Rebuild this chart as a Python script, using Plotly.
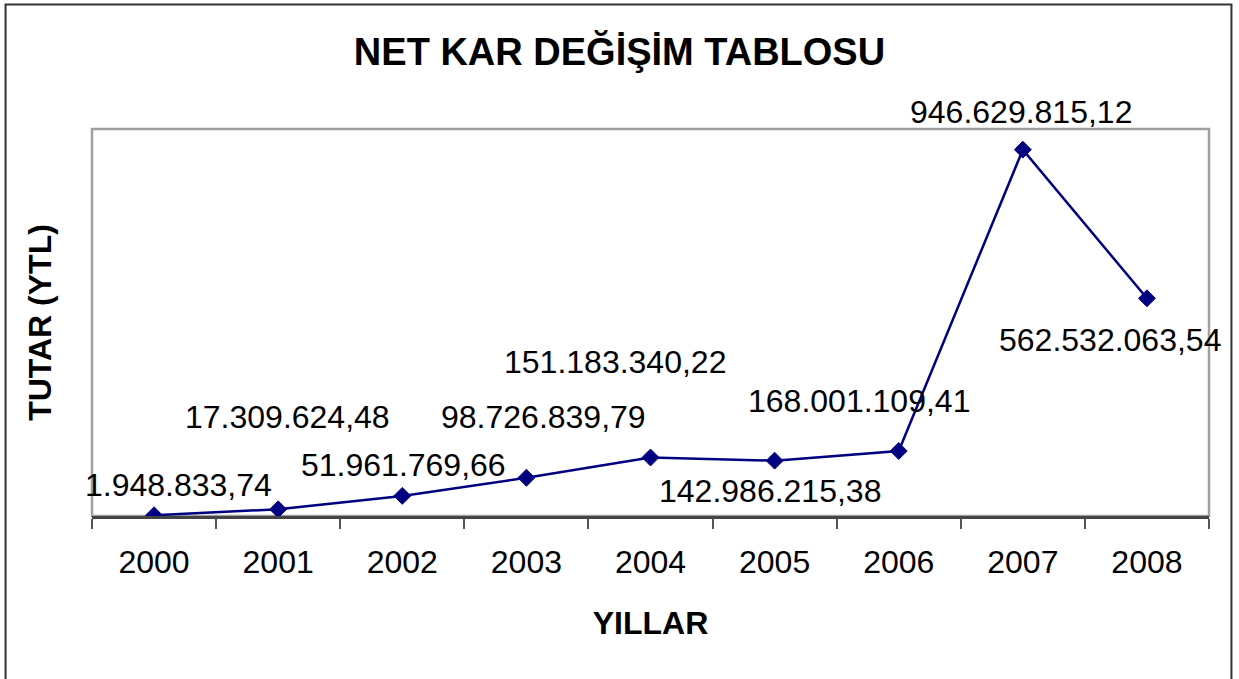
import plotly.graph_objects as go

years = ["2000", "2001", "2002", "2003", "2004", "2005", "2006", "2007", "2008"]
net_kar = [1948833.74, 17309624.48, 51961769.66, 98726839.79, 151183340.22,
           142986215.38, 168001109.41, 946629815.12, 562532063.54]
value_labels = ["1.948.833,74", "17.309.624,48", "51.961.769,66", "98.726.839,79",
                "151.183.340,22", "142.986.215,38", "168.001.109,41",
                "946.629.815,12", "562.532.063,54"]
# label offsets (pixels) as placed in the original chart
label_dx = [24, 9, 1, 17, -36, -5, -40, -2, -37]
label_dy = [30, 92, 31, 61, 95, -30, 50, 38, -42]

FONT = "Liberation Sans, Arial, sans-serif"
NAVY = "#000080"

fig = go.Figure()
fig.add_trace(go.Scatter(
    x=years, y=net_kar, mode="lines+markers",
    line=dict(color=NAVY, width=2.5),
    marker=dict(symbol="diamond", size=13, color=NAVY, line=dict(color=NAVY, width=1)),
    hoverinfo="skip", showlegend=False,
))

for i, (v, t, dx, dy) in enumerate(zip(net_kar, value_labels, label_dx, label_dy)):
    fig.add_annotation(x=i, y=v, text=t, showarrow=False, xshift=dx, yshift=dy,
                       xanchor="center", yanchor="middle",
                       font=dict(family=FONT, size=32, color="black"))

# plot-area border
fig.add_shape(type="rect", xref="paper", yref="paper", x0=0, x1=1, y0=0, y1=1,
              line=dict(color="#a0a0a0", width=2.5), layer="below")
# outer chart border
fig.add_shape(type="rect", xref="paper", yref="paper",
              x0=-0.0774, x1=1.0201, y0=-0.5, y1=1.322,
              line=dict(color="#333333", width=2))

fig.update_layout(
    width=1239, height=679,
    margin=dict(l=92, r=30, t=129, b=163),
    paper_bgcolor="white", plot_bgcolor="white",
    title=dict(text="<b>NET KAR DEĞİŞİM TABLOSU</b>", x=0.5, xanchor="center",
               y=1 - 52 / 679, yanchor="middle", yref="container",
               font=dict(family=FONT, size=38, color="black")),
    font=dict(family=FONT, color="black"),
)
fig.update_xaxes(
    type="category", range=[-0.5, len(years) - 0.5],
    tickson="boundaries", ticks="outside", ticklen=10,
    tickwidth=2, tickcolor="#555555", tickangle=0,
    showline=True, linecolor="#444444", linewidth=2.5,
    showgrid=False, zeroline=False,
    tickfont=dict(family=FONT, size=32, color="black"),
    ticklabelstandoff=16,
    title=dict(text="<b>YILLAR</b>", font=dict(family=FONT, size=32, color="black"),
               standoff=33),
)
fig.update_yaxes(
    range=[0, 1e9], showticklabels=False, ticks="", showgrid=False,
    zeroline=False, showline=False,
    title=dict(text="<b>TUTAR (YTL)</b>", font=dict(family=FONT, size=32, color="black"),
               standoff=29),
)

fig.write_html("out.html", config={"displayModeBar": False},
               post_script="document.body.style.margin='0';")
